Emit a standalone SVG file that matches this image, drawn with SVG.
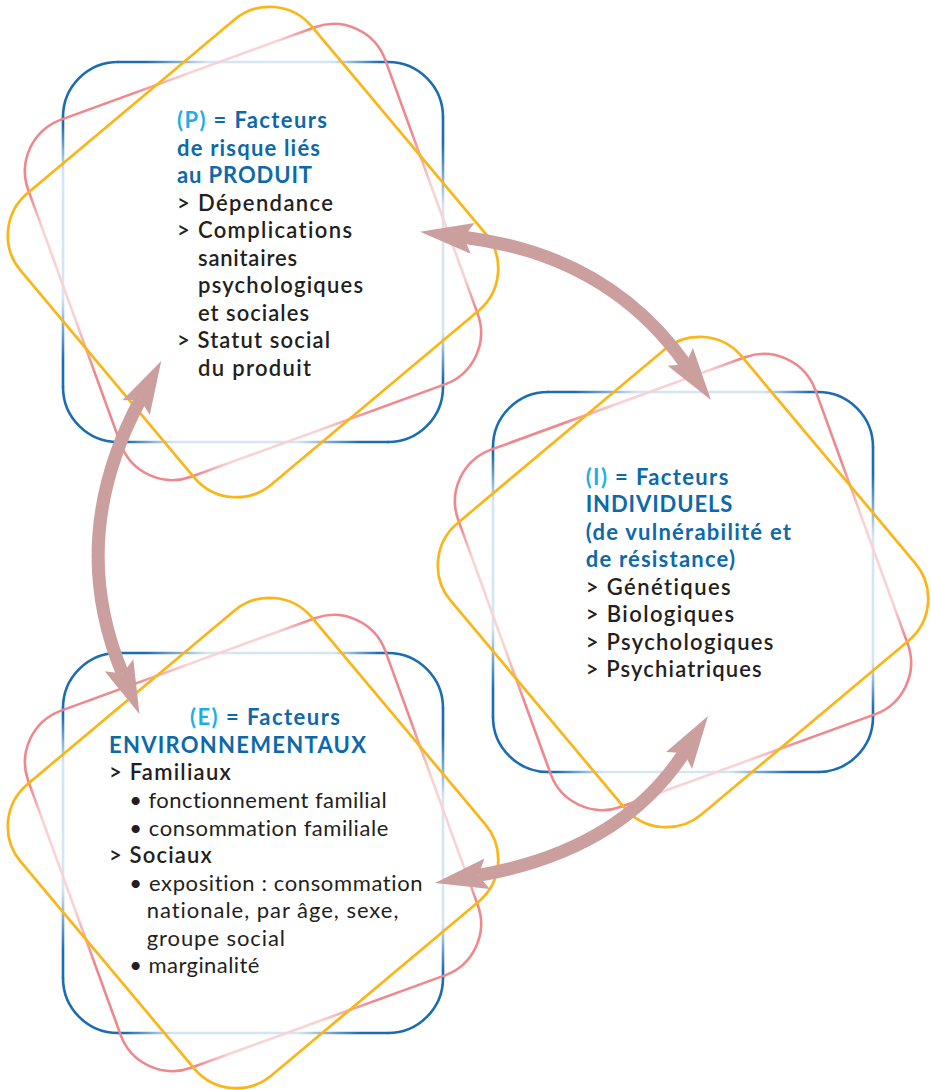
<svg xmlns="http://www.w3.org/2000/svg" xmlns:xlink="http://www.w3.org/1999/xlink" width="931" height="1090" viewBox="0 0 931 1090">
<style>
.e{fill:none;stroke-width:2.6;stroke-linecap:round}
.yl{fill:none;stroke:#fbb517;stroke-width:2.7}
.arr{fill:none;stroke:#cb9f9d;stroke-width:13}
text{font-family:Lato,"Open Sans","Liberation Sans",sans-serif;font-size:22px;font-variant-ligatures:none}
.t{fill:#0d69aa;font-weight:700}
.c{fill:#1eaee6}
.b{fill:#231f20;font-weight:600}
.r{fill:#231f20;font-weight:400}
</style>
<defs>
<linearGradient id="gB" gradientUnits="userSpaceOnUse" x1="-135" y1="0" x2="135" y2="0">
<stop offset="0" stop-color="#1b6cb3"/><stop offset="0.1" stop-color="#1b6cb3"/><stop offset="0.33" stop-color="#d4e5f4"/><stop offset="0.8" stop-color="#d4e5f4"/><stop offset="0.97" stop-color="#1b6cb3"/><stop offset="1" stop-color="#1b6cb3"/>
</linearGradient>
<linearGradient id="gP" gradientUnits="userSpaceOnUse" x1="-135" y1="0" x2="135" y2="0">
<stop offset="0" stop-color="#ef878c"/><stop offset="0.28" stop-color="#ef878c"/><stop offset="0.5" stop-color="#f9d3d4"/><stop offset="0.85" stop-color="#f9d3d4"/><stop offset="0.98" stop-color="#ef878c"/><stop offset="1" stop-color="#ef878c"/>
</linearGradient>
<g id="eB"><path class="e" d="M-135,-190H135" stroke="url(#gB)"/><path class="e" d="M135,-190A55,55 0 0 1 190,-135" stroke="#1b6cb3"/></g>
<g id="eP"><path class="e" d="M-135,-190H135" stroke="url(#gP)"/><path class="e" d="M135,-190A55,55 0 0 1 190,-135" stroke="#ef878c"/></g>
<g id="sqB"><use href="#eB"/><use href="#eB" transform="rotate(90)"/><use href="#eB" transform="rotate(180)"/><use href="#eB" transform="rotate(270)"/></g>
<g id="sqP"><use href="#eP"/><use href="#eP" transform="rotate(90)"/><use href="#eP" transform="rotate(180)"/><use href="#eP" transform="rotate(270)"/></g>
<g id="frame"><use href="#sqB"/><use href="#sqP" transform="rotate(-20)"/><rect class="yl" x="-190" y="-190" width="380" height="380" rx="55" transform="rotate(-40)"/></g>
<marker id="ah" markerUnits="userSpaceOnUse" orient="auto-start-reverse" refX="0" refY="0" markerWidth="60" markerHeight="40" viewBox="-12 -20 60 40" overflow="visible"><path d="M-9,-15.5L44,0L-9,15.5L0,0Z" fill="#cb9f9d"/></marker>
</defs>
<rect width="931" height="1090" fill="#fff"/>
<g id="node-P">
<use href="#frame" transform="translate(253,252)"/>
<text x="177" y="128" class="t" textLength="150"><tspan class="c">(P)</tspan> = Facteurs</text>
<text x="177" y="155.5" class="t" textLength="143">de risque liés</text>
<text x="177" y="183" class="t" textLength="135">au PRODUIT</text>
<text x="177" y="210.5" class="b" textLength="156">&gt; Dépendance</text>
<text x="177" y="238" class="b" textLength="175">&gt; Complications</text>
<text x="198" y="265.5" class="b" textLength="99">sanitaires</text>
<text x="198" y="293" class="b" textLength="165">psychologiques</text>
<text x="198" y="320.5" class="b" textLength="111">et sociales</text>
<text x="177" y="348" class="b" textLength="153">&gt; Statut social</text>
<text x="198" y="375.5" class="b" textLength="113">du produit</text>
</g>
<g id="node-I">
<use href="#frame" transform="translate(683,582)"/>
<text x="585.7" y="484.5" class="t" textLength="142.6"><tspan class="c">(I)</tspan> = Facteurs</text>
<text x="585.7" y="512" class="t" textLength="146.7">INDIVIDUELS</text>
<text x="585.7" y="539.5" class="t" textLength="205.3">(de vulnérabilité et</text>
<text x="585.7" y="567" class="t" textLength="149.3">de résistance)</text>
<text x="585.7" y="594.5" class="b" textLength="145">&gt; Génétiques</text>
<text x="585.7" y="622" class="b" textLength="148.3">&gt; Biologiques</text>
<text x="585.7" y="649.5" class="b" textLength="187.7">&gt; Psychologiques</text>
<text x="585.7" y="677" class="b" textLength="176">&gt; Psychiatriques</text>
</g>
<g id="node-E">
<use href="#frame" transform="translate(253,843)"/>
<text x="190" y="725" class="t" textLength="150"><tspan class="c">(E)</tspan> = Facteurs</text>
<text x="109" y="752.7" class="t" textLength="257">ENVIRONNEMENTAUX</text>
<text x="109" y="780" class="b" textLength="121.7">&gt; Familiaux</text>
<text x="129.3" y="808.3" class="r" textLength="257.3">• fonctionnement familial</text>
<text x="129.3" y="835.5" class="r" textLength="259">• consommation familiale</text>
<text x="109" y="863.3" class="b" textLength="102.7">&gt; Sociaux</text>
<text x="129.3" y="891.3" class="r" textLength="293.3">• exposition : consommation</text>
<text x="146.7" y="918.3" class="r" textLength="251.7">nationale, par âge, sexe,</text>
<text x="146.7" y="946" class="r" textLength="138.3">groupe social</text>
<text x="129.3" y="973.3" class="r" textLength="130">• marginalité</text>
</g>
<g id="connectors">
<path class="arr" d="M463.7,237.2Q608,255 685.5,364.2" marker-start="url(#ah)" marker-end="url(#ah)"/>
<path class="arr" d="M140.4,399.7Q66,538 122.5,673.5" marker-start="url(#ah)" marker-end="url(#ah)"/>
<path class="arr" d="M478.3,875.4Q620.3,850.6 684,752.9" marker-start="url(#ah)" marker-end="url(#ah)"/>
</g>
</svg>
